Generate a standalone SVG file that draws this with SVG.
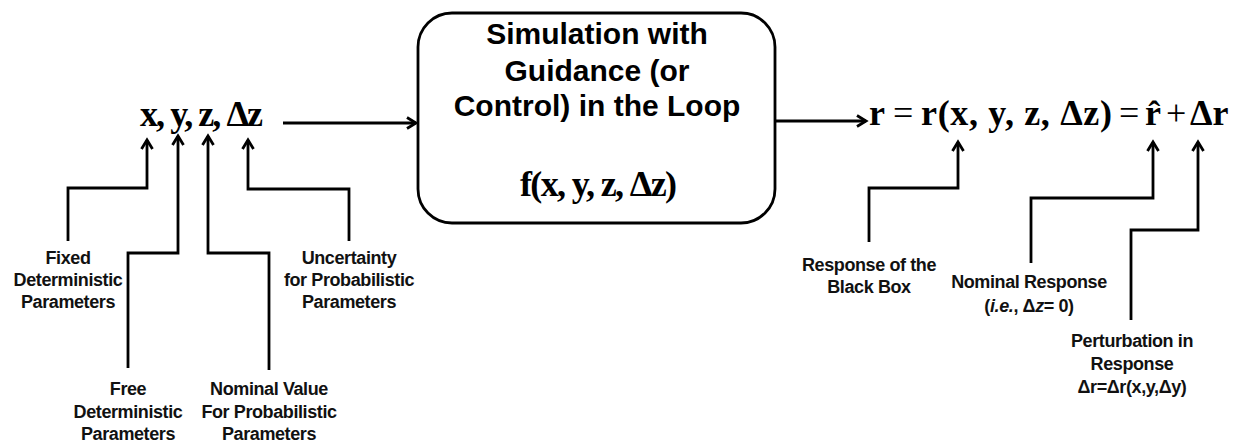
<svg xmlns="http://www.w3.org/2000/svg" width="1233" height="443" viewBox="0 0 1233 443">
<style>
.lbl{font-family:"Liberation Sans",Arial,sans-serif;font-weight:bold;font-size:18px;letter-spacing:-0.4px;fill:#111;text-anchor:middle}
.box{font-family:"Liberation Sans",Arial,sans-serif;font-weight:bold;font-size:30px;fill:#000;text-anchor:middle}
.math{font-family:"Liberation Serif","Times New Roman",serif;font-weight:bold;font-size:36px;fill:#000}
.op{font-family:"Liberation Serif","Times New Roman",serif;font-weight:normal;font-size:36px;fill:#000}
.ln{fill:none;stroke:#000;stroke-width:2.8}
</style>
<defs>
<marker id="ah" viewBox="0 0 14 14" refX="11" refY="7" markerWidth="14" markerHeight="14" markerUnits="userSpaceOnUse" orient="auto">
<polyline points="2,1.5 11,7 2,12.5" fill="none" stroke="#000" stroke-width="2.8"/>
</marker>
</defs>
<rect width="1233" height="443" fill="#fff"/>
<g id="inputs">
<text class="math" x="140" y="126" textLength="123" lengthAdjust="spacing">x, y, z, Δz</text>
</g>
<g id="sim">
<rect x="418" y="13" width="357" height="210" rx="34" ry="34" fill="#fff" stroke="#000" stroke-width="2.8"/>
<text class="box" x="597" y="44">Simulation with</text>
<text class="box" x="597" y="81">Guidance (or</text>
<text class="box" x="597" y="116">Control) in the Loop</text>
<text class="math" x="520" y="196" textLength="157" lengthAdjust="spacing">f(x, y, z, Δz)</text>
</g>
<g id="output">
<text class="math" x="869" y="125" font-size="38">r</text>
<text class="op" x="893" y="125">=</text>
<text class="math" x="921" y="125" font-size="38" textLength="191" lengthAdjust="spacing">r(x, y, z, Δz)</text>
<text class="op" x="1119" y="125">=</text>
<text class="math" x="1145" y="125" font-size="38">r̂</text>
<text class="op" x="1166" y="125">+</text>
<text class="math" x="1190" y="125">Δr</text>
</g>
<g id="lbl-fixed"><text class="lbl" x="68" y="264">Fixed</text><text class="lbl" x="68" y="286">Deterministic</text><text class="lbl" x="68" y="308">Parameters</text></g>
<g id="lbl-free"><text class="lbl" x="128" y="395">Free</text><text class="lbl" x="128" y="418">Deterministic</text><text class="lbl" x="128" y="440">Parameters</text></g>
<g id="lbl-nominal"><text class="lbl" x="269" y="395">Nominal Value</text><text class="lbl" x="269" y="418">For Probabilistic</text><text class="lbl" x="269" y="440">Parameters</text></g>
<g id="lbl-unc"><text class="lbl" x="349" y="264">Uncertainty</text><text class="lbl" x="349" y="286">for Probabilistic</text><text class="lbl" x="349" y="308">Parameters</text></g>
<g id="lbl-resp"><text class="lbl" x="869" y="271">Response of the</text><text class="lbl" x="869" y="293">Black Box</text></g>
<g id="lbl-nomresp"><text class="lbl" x="1029" y="288">Nominal Response</text><text class="lbl" x="1029" y="312">(<tspan font-style="italic">i.e.</tspan>, Δ<tspan font-style="italic">z</tspan>= 0)</text></g>
<g id="lbl-pert"><text class="lbl" x="1132" y="347">Perturbation in</text><text class="lbl" x="1132" y="370">Response</text><text class="lbl" x="1132" y="393">Δr=Δr(x,y,Δy)</text></g>
<g id="connectors">
<line class="ln" x1="283" y1="123" x2="416" y2="123" stroke-width="3" marker-end="url(#ah)"/>
<line class="ln" x1="775" y1="121" x2="866" y2="121" stroke-width="3" marker-end="url(#ah)"/>
<polyline class="ln" points="68,241 68,188 147,188 147,140" marker-end="url(#ah)"/>
<polyline class="ln" points="128,368 128,253 178,253 178,136" marker-end="url(#ah)"/>
<polyline class="ln" points="269,370 269,253 208,253 208,136" marker-end="url(#ah)"/>
<polyline class="ln" points="349,241 349,189 248,189 248,140" marker-end="url(#ah)"/>
<polyline class="ln" points="869,242 869,188 958,188 958,142" marker-end="url(#ah)"/>
<polyline class="ln" points="1031,263 1031,198 1153,198 1153,142" marker-end="url(#ah)"/>
<polyline class="ln" points="1131,320 1131,230 1198,230 1198,142" marker-end="url(#ah)"/>
</g>
</svg>
